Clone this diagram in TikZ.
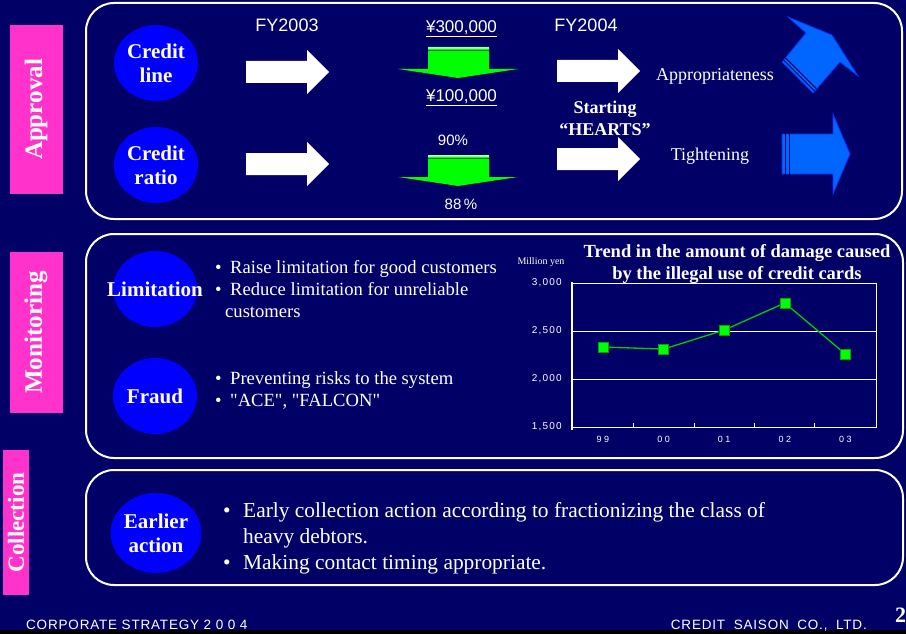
\documentclass[tikz,border=0pt]{standalone}
\usepackage{fontspec}
\setmainfont{Liberation Serif}
\setsansfont{Liberation Sans}
\newfontfamily\footfont[LetterSpace=6]{Liberation Sans}
\newfontfamily\chartfont[LetterSpace=12]{Liberation Sans}
\usetikzlibrary{shapes.geometric}
\definecolor{slidenavy}{RGB}{0,0,102}
\definecolor{tagpink}{RGB}{255,51,204}
\definecolor{topicblue}{RGB}{0,0,255}
\definecolor{arrowblue}{RGB}{0,102,255}
\definecolor{arrowedge}{RGB}{0,51,255}
\definecolor{cutgreen}{RGB}{0,255,0}
\definecolor{trendgreen}{RGB}{0,204,0}
\newcommand{\bul}[1][15pt]{\makebox[#1][l]{\textbullet}}
\tikzset{
  panel/.style={draw=white, line width=2pt, rounded corners=28pt},
  sidetag/.style={
    fill=tagpink,
    rotate=90,
    inner sep=0pt,
    text=white,
    font=\fontsize{25}{25}\selectfont\bfseries
  },
  topic/.style={
    ellipse,
    fill=topicblue,
    minimum width=84pt,
    minimum height=76pt,
    inner sep=0pt,
    align=center,
    text=white,
    font=\fontsize{21}{24}\selectfont\bfseries
  },
  fy/.style={text=white, inner sep=0pt, font=\sffamily\fontsize{18}{18}\selectfont},
  amount/.style={text=white, inner sep=0pt, font=\sffamily\fontsize{17}{17}\selectfont},
  ratio/.style={text=white, inner sep=0pt, font=\sffamily\fontsize{15}{15}\selectfont},
  note/.style={text=white, inner sep=0pt, align=center, font=\fontsize{18}{22}\selectfont},
  bullets/.style={text=white, align=left, anchor=north west, inner sep=0pt, font=\fontsize{18.6}{22.3}\selectfont},
  axisnum/.style={text=white, inner sep=0pt, anchor=east, font=\chartfont\fontsize{10}{10}\selectfont},
  catnum/.style={text=white, inner sep=0pt, font=\sffamily\fontsize{9}{9}\selectfont},
  datapt/.style={rectangle, fill=cutgreen, draw=trendgreen!80!black, line width=0.4pt, minimum size=10pt, inner sep=0pt},
  footer/.style={text=white, inner sep=0pt, font=\footfont\fontsize{13.5}{13.5}\selectfont},
  whitearrow/.pic={
    \fill[white] (0,-11) -- (61,-11) -- (61,-22) -- (83,0) -- (61,22) -- (61,11) -- (0,11) -- cycle;
  },
  cutarrow/.pic={
    \fill[cutgreen] (-30,0) -- (31,0) -- (31,22) -- (60,22) -- (0,31) -- (-60,22) -- (-30,22) -- cycle;
    \draw[cutgreen!35!white, line width=1.5pt] (-30,1) -- (31,1);
    \draw[cutgreen!55!black, line width=0.6pt] (-30,3.4) -- (31,3.4);
  }
}
\begin{document}
\begin{tikzpicture}[x=1pt, y=-1pt]
  \useasboundingbox (0,0) rectangle (906,634);
  \fill[slidenavy] (0,0) rectangle (906,634);
  \fill[black] (0,630) rectangle (906,634);

  % frames and side tags
  \draw[panel] (86,3) rectangle (902,219);
  \draw[panel] (86,234) rectangle (903,458);
  \draw[panel] (86,470) rectangle (903,585);
  \node[sidetag, minimum width=169pt, minimum height=53pt] (approval) at (36,109.5) {Approval};
  \node[sidetag, minimum width=161pt, minimum height=53pt] (monitoring) at (36,332.5) {Monitoring};
  \node[sidetag, minimum width=145pt, minimum height=26pt, font=\fontsize{23}{23}\selectfont\bfseries] (collection) at (16,522.5) {Collection};

  % approval
  \node[topic] (cline) at (156,63) {Credit\\line};
  \node[topic] (cratio) at (156,165) {Credit\\ratio};
  \node[fy, anchor=base] (fy03) at (287,31.5) {FY2003};
  \node[fy, anchor=base] (fy04) at (586,31.5) {FY2004};
  \pic (wa1) at (246,72) {whitearrow};
  \pic (wa2) at (246,164) {whitearrow};
  \pic (wa3) at (557,71) {whitearrow};
  \pic (wa4) at (557,159) {whitearrow};
  \pic (ga1) at (458,47) {cutarrow};
  \pic (ga2) at (458,155) {cutarrow};
  \node[amount, anchor=base] (old) at (461.5,33) {\underline{¥300,000}};
  \node[amount, anchor=base] (new) at (461.5,101.5) {\underline{¥100,000}};
  \node[ratio, anchor=base] (oldratio) at (453,145.5) {90\%};
  \node[ratio, anchor=base] (newratio) at (461,209) {88\,\%};
  \node[note, font=\fontsize{18}{22}\selectfont\bfseries] (hearts) at (605,118) {Starting\\``HEARTS''};
  \node[note, anchor=base] (approp) at (715,80.5) {Appropriateness};
  \node[note, anchor=base] (tight) at (710,160.5) {Tightening};
  \filldraw[fill=arrowblue, draw=arrowedge, line width=0.8pt]
    (788,17) -- (832,35) -- (858,76) -- (840,62) -- (813,93) -- (782,62) -- (806,33) -- cycle;
  \draw[slidenavy, line width=1pt] (783.6,60.1) -- (814.6,91.1) (785.5,57.8) -- (816.5,88.8);
  \filldraw[fill=arrowblue, draw=arrowedge, line width=0.8pt]
    (782,134) -- (833,134) -- (833,114) -- (850,154) -- (833,194) -- (833,174) -- (782,174) -- cycle;
  \draw[slidenavy, line width=1pt] (785,133) -- (785,175) (789,133) -- (789,175);

  % monitoring
  \node[topic] (limit) at (155,289) {};
  \node[topic, fill=none] (limittext) at (155,289) {Limitation};
  \node[topic] (fraud) at (155,396) {Fraud};
  \node[bullets] (limitlist) at (215,260) {\bul Raise limitation for good customers\\
    \bul Reduce limitation for unreliable\\
    \hspace*{10pt}customers};
  \node[bullets] (fraudlist) at (215,371.5) {\bul Preventing risks to the system\\
    \bul \textquotedbl ACE\textquotedbl, \textquotedbl FALCON\textquotedbl};

  % damage trend chart
  \node[note, font=\fontsize{18.5}{22.5}\selectfont\bfseries] (title) at (737,264)
    {Trend in the amount of damage caused\\by the illegal use of credit cards};
  \node[text=white, inner sep=0pt, anchor=base, font=\fontsize{10}{10}\selectfont] (unit) at (541,264) {Million yen};
  \draw[white, line width=1pt] (572,283) rectangle (876,427);
  \foreach \v in {2000,2500}
    \draw[white, line width=1pt] (572,{571-0.096*\v}) -- (876,{571-0.096*\v});
  \draw[white, line width=1.6pt] (572,282) -- (572,430);
  \foreach \x in {633,694,754,814}
    \draw[white, line width=0.8pt] (\x,427) -- (\x,423);
  \foreach \v/\t in {1500/{1,500},2000/{2,000},2500/{2,500},3000/{3,000}}
    \node[axisnum] (y\v) at (562,{571-0.096*\v}) {\t};
  \foreach \c [count=\i] in {9 9,0 0,0 1,0 2,0 3}
    \node[catnum] (cat\i) at ({542.4+60.6*\i},439) {\c};
  \foreach \v [count=\i] in {2333,2312,2510,2792,2260}
    \coordinate (d\i) at ({542.4+60.6*\i},{571-0.096*\v});
  \draw[trendgreen, line width=1.3pt] (d1) -- (d2) -- (d3) -- (d4) -- (d5);
  \foreach \i in {1,...,5}
    \node[datapt] (m\i) at (d\i) {};

  % collection
  \node[topic, minimum height=80pt] (early) at (156,533) {Earlier\\action};
  \node[bullets, font=\fontsize{21.4}{26}\selectfont] (earlylist) at (223,502.4)
    {\bul[20pt]Early collection action according to fractionizing the class of\\
    \hspace*{20pt}heavy debtors.\\
    \bul[20pt]Making contact timing appropriate.};

  % footer
  \node[footer, anchor=base west] (strategy) at (26,629) {CORPORATE STRATEGY 2 0 0 4};
  \node[footer, anchor=base east] (company) at (867,629) {CREDIT\hspace{4pt} SAISON\hspace{4pt} CO.,\hspace{4pt} LTD.};
  \node[text=white, inner sep=0pt, anchor=base west, font=\fontsize{22}{22}\selectfont\bfseries] (page) at (895,622) {2};
\end{tikzpicture}
\end{document}
